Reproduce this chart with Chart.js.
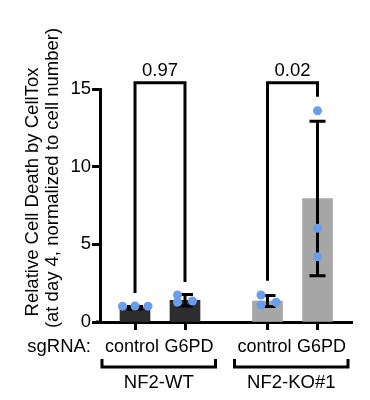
<!DOCTYPE html>
<html>
<head>
<meta charset="utf-8">
<script src="https://cdn.jsdelivr.net/npm/chart.js@4.4.0/dist/chart.umd.min.js"></script>
<style>
  html, body { margin: 0; padding: 0; background: #fff; }
  #caja { width: 370px; height: 400px; }
</style>
</head>
<body>
<div id="caja"><canvas id="grafica" width="370" height="400"></canvas></div>
<script>
// === Datos de la figura ===
const categorias = ['control', 'G6PD', 'control', 'G6PD'];
const posiciones = [1, 2, 3.65, 4.65];
const grupos = ['NF2-WT', 'NF2-KO#1'];
const grupoIndices = [[0, 1], [2, 3]];
const medias = [0.92, 1.4, 1.35, 7.95];
const desviaciones = [0.08, 0.37, 0.35, 4.98];
const puntosY = [
  [1.02, 1.03, 1.02],
  [1.74, 1.27, 1.35],
  [1.74, 1.09, 1.27],
  [13.6, 6.03, 4.2]
];
const puntosDesplazamiento = [
  [-0.25, 0, 0.26],
  [-0.15, -0.15, 0.15],
  [-0.13, -0.13, 0.17],
  [0, 0, 0]
];
const coloresBarras = ['#2d2d2d', '#2d2d2d', '#a6a6a6', '#a6a6a6'];
const comparaciones = [[0, 1], [2, 3]];
const valoresP = ['0.97', '0.02'];
const extremosComparacion = [[1.87, 2.58], [2.66, 14.5]];
const alturaComparacion = 15.4;
const ticksY = [0, 5, 10, 15];
const tituloY = ['Relative Cell Death by CellTox', '(at day 4, normalized to cell number)'];
const etiquetaGuia = 'sgRNA:';

// === Estilo ===
const FAMILIA = '"Liberation Sans", Arial, sans-serif';
const TAM = 18.5;
const FUENTE = TAM + 'px ' + FAMILIA;
const FUENTE_CAT = '18px ' + FAMILIA;
const CORRIMIENTO_CAT = [-3, 4, -3, 4];

const puntos = [];
puntosY.forEach((lista, i) => {
  lista.forEach((v, j) => puntos.push({ x: posiciones[i] + puntosDesplazamiento[i][j], y: v }));
});

// barras de error (media ± DE), dibujadas antes de los puntos
const barrasError = {
  id: 'barrasError',
  afterDatasetDraw(chart, args) {
    if (args.index !== 1) return;
    const { ctx, scales: { x, y } } = chart;
    ctx.save();
    ctx.strokeStyle = '#000';
    ctx.lineWidth = 3;
    medias.forEach((m, i) => {
      const px = x.getPixelForValue(posiciones[i]);
      const arriba = y.getPixelForValue(m + desviaciones[i]);
      const abajo = y.getPixelForValue(m - desviaciones[i]);
      ctx.beginPath();
      ctx.moveTo(px, arriba);
      ctx.lineTo(px, abajo);
      ctx.moveTo(px - 8, arriba);
      ctx.lineTo(px + 8, arriba);
      ctx.moveTo(px - 8, abajo);
      ctx.lineTo(px + 8, abajo);
      ctx.stroke();
    });
    ctx.restore();
  }
};

// corchetes, títulos y grupos
const anotaciones = {
  id: 'anotaciones',
  afterDraw(chart) {
    const { ctx, chartArea, scales: { x, y } } = chart;
    ctx.save();
    ctx.strokeStyle = '#000';
    ctx.fillStyle = '#000';
    ctx.lineWidth = 3;
    ctx.font = FUENTE;
    ctx.textBaseline = 'alphabetic';

    comparaciones.forEach(([a, b], i) => {
      const xa = x.getPixelForValue(posiciones[a]);
      const xb = x.getPixelForValue(posiciones[b]);
      const techo = y.getPixelForValue(alturaComparacion);
      ctx.beginPath();
      ctx.moveTo(xa, y.getPixelForValue(extremosComparacion[i][0]));
      ctx.lineTo(xa, techo);
      ctx.lineTo(xb, techo);
      ctx.lineTo(xb, y.getPixelForValue(extremosComparacion[i][1]));
      ctx.stroke();
      ctx.textAlign = 'center';
      ctx.fillText(valoresP[i], (xa + xb) / 2, techo - 7);
    });

    const base = chartArea.bottom;

    // prolongación del eje x a la izquierda
    ctx.beginPath();
    ctx.moveTo(96, y.getPixelForValue(0));
    ctx.lineTo(chartArea.left, y.getPixelForValue(0));
    ctx.stroke();

    grupoIndices.forEach(([a, b], i) => {
      const xa = x.getPixelForValue(posiciones[a] - 0.66);
      const xb = x.getPixelForValue(posiciones[b] + 0.61);
      ctx.beginPath();
      ctx.moveTo(xa, base + 37);
      ctx.lineTo(xa, base + 45);
      ctx.lineTo(xb, base + 45);
      ctx.lineTo(xb, base + 37);
      ctx.stroke();
      ctx.textAlign = 'center';
      ctx.fillText(grupos[i], (xa + xb) / 2, base + 66);
    });

    ctx.textAlign = 'right';
    ctx.fillText(etiquetaGuia, 91, base + 30);

    ctx.font = FUENTE_CAT;
    ctx.textAlign = 'center';
    categorias.forEach((c, i) => {
      ctx.fillText(c, x.getPixelForValue(posiciones[i]) + CORRIMIENTO_CAT[i], base + 30);
    });

    ctx.font = FUENTE;
    const lineasX = [38, 57.5];
    const lineasY = [192, 178];
    tituloY.forEach((linea, i) => {
      ctx.save();
      ctx.translate(lineasX[i], lineasY[i]);
      ctx.rotate(-Math.PI / 2);
      ctx.textAlign = 'center';
      ctx.fillText(linea, 0, 0);
      ctx.restore();
    });
    ctx.restore();
  }
};

new Chart(document.getElementById('grafica'), {
  type: 'bar',
  data: {
    datasets: [
      {
        type: 'scatter',
        data: puntos,
        backgroundColor: '#6b9ded',
        borderWidth: 0,
        pointRadius: 4.5,
        order: 1
      },
      {
        type: 'bar',
        data: posiciones.map((p, i) => ({ x: p, y: medias[i] })),
        backgroundColor: coloresBarras,
        barThickness: 30,
        order: 2
      }
    ]
  },
  options: {
    responsive: false,
    animation: false,
    layout: { padding: { left: 10, right: 18, top: 89, bottom: 0 } },
    plugins: { legend: { display: false }, tooltip: { enabled: false } },
    scales: {
      x: {
        type: 'linear',
        min: 0.3,
        max: 5.34,
        offset: false,
        afterBuildTicks: s => { s.ticks = posiciones.map(v => ({ value: v })); },
        afterFit: s => { s.height = 78; },
        grid: { offset: false, drawOnChartArea: false, drawTicks: true, tickLength: 8, tickWidth: 3, tickColor: '#000' },
        border: { display: true, color: '#000', width: 3 },
        ticks: { display: false, autoSkip: false }
      },
      y: {
        min: 0,
        max: 15,
        afterBuildTicks: s => { s.ticks = ticksY.map(v => ({ value: v })); },
        afterFit: s => { s.width = 90; },
        grid: { drawOnChartArea: false, drawTicks: true, tickLength: 8, tickWidth: 3, tickColor: '#000' },
        border: { display: true, color: '#000', width: 3 },
        ticks: { padding: 1, color: '#000', font: { family: FAMILIA, size: TAM } }
      }
    }
  },
  plugins: [barrasError, anotaciones]
});
</script>
</body>
</html>
